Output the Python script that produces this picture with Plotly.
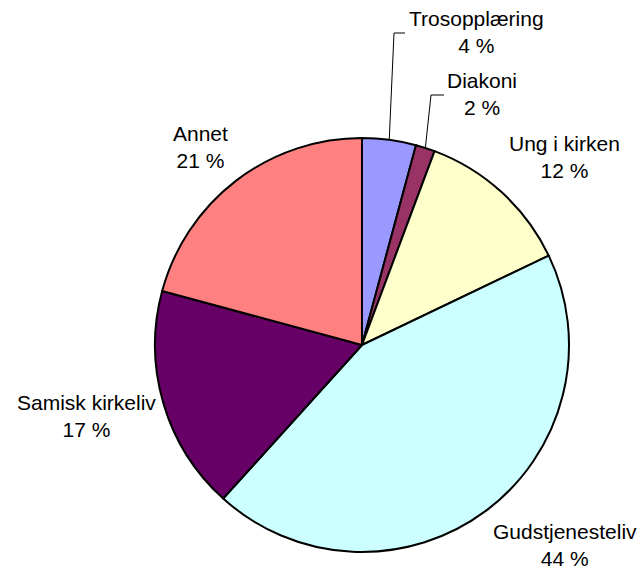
import math
import plotly.graph_objects as go

# ---- data ----
categories = ["Trosopplæring", "Diakoni", "Ung i kirken", "Gudstjenesteliv", "Samisk kirkeliv", "Annet"]
values = [4.2, 1.5, 12.2, 43.8, 17.5, 20.8]
pct_labels = ["4 %", "2 %", "12 %", "44 %", "17 %", "21 %"]

# ---- style / layout ----
colors = ["#9999FF", "#993366", "#FFFFCC", "#CCFFFF", "#660066", "#FF8080"]
W, H = 643, 570
cx, cy, R = 362, 345, 207  # pie centre / radius in pixels
# label block centres (pixels)
label_pos = [(477, 32), (482, 94), (564, 157), (565, 545), (86, 416), (200, 147)]
# leader line elbows (pixels) for small slices: (elbow_x, elbow_y, end_x)
leaders = {0: (394, 33, 405), 1: (431, 95, 444)}

def px(x):
    return x / W

def py(y):
    return 1 - y / H

fig = go.Figure(go.Pie(
    labels=categories,
    values=values,
    sort=False,
    direction="clockwise",
    rotation=0,
    marker=dict(colors=colors, line=dict(color="black", width=2)),
    textinfo="none",
    hoverinfo="label+percent",
    showlegend=False,
    domain=dict(x=[px(cx - R), px(cx + R)], y=[py(cy + R), py(cy - R)]),
))

annotations = []
for (lx, ly), cat, p in zip(label_pos, categories, pct_labels):
    annotations.append(dict(
        x=px(lx), y=py(ly), xref="paper", yref="paper",
        text=f"{cat}<br>{p}", showarrow=False, align="center",
        xanchor="center", yanchor="middle",
        font=dict(family="Liberation Sans, Arial, sans-serif", size=21, color="black"),
    ))

shapes = []
total = sum(values)
cum = 0.0
for i, v in enumerate(values):
    mid = (cum + v / 2) / total * 2 * math.pi
    cum += v
    if i in leaders:
        sx = cx + R * math.sin(mid)
        sy = cy - R * math.cos(mid)
        ex, ey, endx = leaders[i]
        shapes.append(dict(type="line", xref="paper", yref="paper",
                           x0=px(sx), y0=py(sy), x1=px(ex), y1=py(ey),
                           line=dict(color="black", width=1)))
        shapes.append(dict(type="line", xref="paper", yref="paper",
                           x0=px(ex), y0=py(ey), x1=px(endx), y1=py(ey),
                           line=dict(color="black", width=1)))

fig.update_layout(
    width=W, height=H,
    margin=dict(l=0, r=0, t=0, b=0),
    paper_bgcolor="white", plot_bgcolor="white",
    annotations=annotations, shapes=shapes,
)

fig.write_html("out.html", config={"displayModeBar": False},
               post_script="document.body.style.margin='0px';document.body.style.overflow='hidden';")
